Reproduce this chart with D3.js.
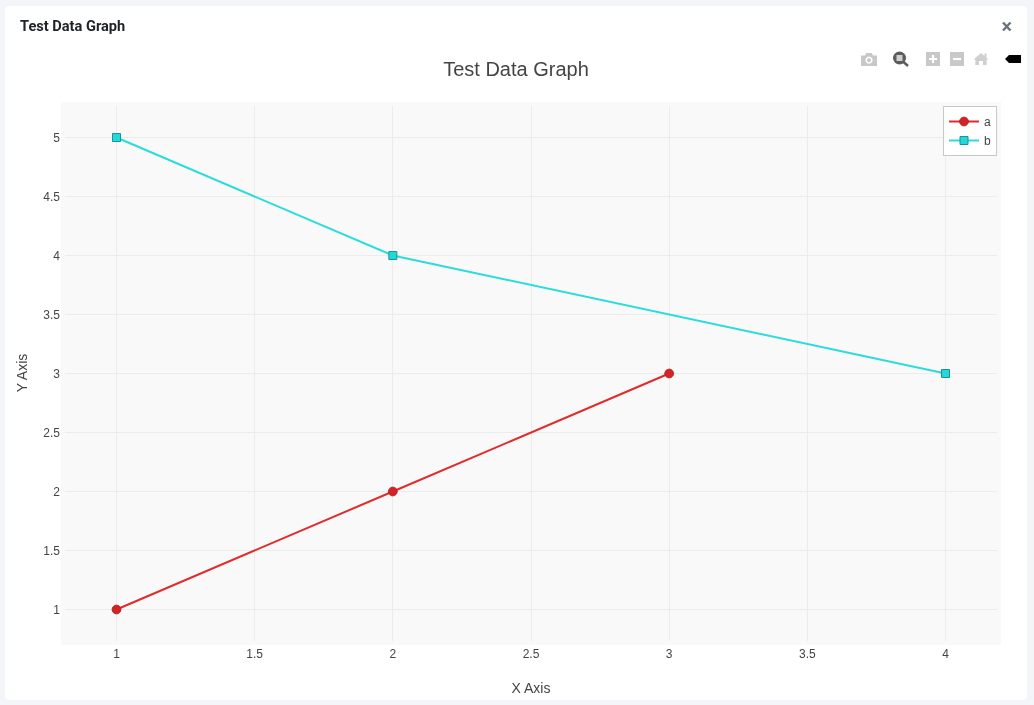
<!DOCTYPE html>
<html>
<head>
<meta charset="utf-8">
<script src="https://cdn.jsdelivr.net/npm/d3@7"></script>
<style>
html,body{margin:0;padding:0;background:#f4f5f8;width:1034px;height:705px;overflow:hidden}
svg{position:absolute;left:0;top:0;display:block;will-change:transform}
text{font-family:"Liberation Sans",Arial,sans-serif}
</style>
</head>
<body>
<svg id="chart" width="1034" height="705"></svg>
<script>
const chartTitle = "Test Data Graph";
const xAxisLabel = "X Axis";
const yAxisLabel = "Y Axis";
const seriesNames = ["a", "b"];
const seriesAX = [1, 2, 3];
const seriesAY = [1, 2, 3];
const seriesBX = [1, 2, 4];
const seriesBY = [5, 4, 3];
const xTicks = [1, 1.5, 2, 2.5, 3, 3.5, 4];
const yTicks = [1, 1.5, 2, 2.5, 3, 3.5, 4, 4.5, 5];
const seriesColors = ["#e22a2a", "#2adcdc"];
const markerFill = ["#d62222", "#22d8d8"];
const markerStroke = ["#ab2228", "#1a9298"];

const svg = d3.select("#chart");
const plot = {l: 61, r: 1001, t: 102, b: 645};
const x = d3.scaleLinear().domain([1, 4]).range([116.5, 945.5]);
const y = d3.scaleLinear().domain([1, 5]).range([609.5, 137.5]);

// card
svg.append("rect").attr("x", 5).attr("y", 6).attr("width", 1022).attr("height", 694).attr("rx", 4).attr("fill", "#fff");
svg.append("text").attr("x", 20).attr("y", 31).attr("fill", "#212529")
  .style("font-family", "Roboto,sans-serif").style("font-size", "14.6px").style("font-weight", 700).text(chartTitle);
svg.append("path").attr("d", "M1003 22.5L1010.5 30.5M1010.5 22.5L1003 30.5").attr("stroke", "#69717f").attr("stroke-width", 2.4).attr("fill", "none");

// plot background
svg.append("rect").attr("x", plot.l).attr("y", plot.t).attr("width", plot.r - plot.l).attr("height", plot.b - plot.t).attr("fill", "#f9f9f9");

// axes drawn with d3 axis, then styled as gridlines
const gx = svg.append("g").attr("transform", `translate(0,${plot.b - 4})`)
  .call(d3.axisBottom(x).offset(0).tickValues(xTicks).tickFormat(d3.format("~g")).tickSize(-(plot.b - plot.t - 8)).tickPadding(8));
const gy = svg.append("g").attr("transform", `translate(${plot.l + 4},0)`)
  .call(d3.axisLeft(y).offset(0).tickValues(yTicks).tickFormat(d3.format("~g")).tickSize(-(plot.r - plot.l - 8)).tickPadding(5));
[gx, gy].forEach(g => {
  g.select(".domain").remove();
  g.selectAll("line").attr("stroke", "#ececec").attr("stroke-width", 1).attr("shape-rendering", "crispEdges");
  g.selectAll("text").attr("fill", "#444").style("font-family", "'Liberation Sans',Arial,sans-serif").style("font-size", "12px");
});
gy.selectAll("text").attr("y", 0.5);

// axis titles
svg.append("text").attr("x", 531).attr("y", 693).attr("text-anchor", "middle").attr("fill", "#444").style("font-size", "14px").text(xAxisLabel);
svg.append("text").attr("transform", "translate(27,373) rotate(-90)").attr("text-anchor", "middle").attr("fill", "#444").style("font-size", "14px").text(yAxisLabel);
svg.append("text").attr("x", 516).attr("y", 76).attr("text-anchor", "middle").attr("fill", "#444").style("font-size", "20px").text(chartTitle);

// series
const line = d3.line().x(d => x(d[0])).y(d => y(d[1]));
const seriesA = d3.zip(seriesAX, seriesAY);
const seriesB = d3.zip(seriesBX, seriesBY);
const circleSym = d3.symbol().type(d3.symbolCircle).size(Math.PI * 19);
const squareSym = d3.symbol().type(d3.symbolSquare).size(64);
[seriesA, seriesB].forEach((pts, i) => {
  const g = svg.append("g");
  g.append("path").datum(pts).attr("d", line).attr("fill", "none").attr("stroke", seriesColors[i]).attr("stroke-width", 2);
  g.selectAll("path.m").data(pts).join("path").attr("class", "m")
    .attr("transform", d => `translate(${x(d[0])},${y(d[1])})`)
    .attr("d", i === 0 ? circleSym : squareSym)
    .attr("fill", markerFill[i]).attr("stroke", markerStroke[i]).attr("stroke-width", 1);
});

// legend
const legend = svg.append("g");
legend.append("rect").attr("x", 943.5).attr("y", 106.5).attr("width", 53).attr("height", 49).attr("fill", "#fff").attr("stroke", "#c8c8c8").attr("stroke-width", 1);
seriesNames.forEach((name, i) => {
  const ly = 121.5 + i * 19;
  legend.append("line").attr("x1", 949).attr("x2", 979).attr("y1", ly).attr("y2", ly).attr("stroke", seriesColors[i]).attr("stroke-width", 2);
  legend.append("path").attr("transform", `translate(964,${ly})`).attr("d", i === 0 ? circleSym : squareSym)
    .attr("fill", markerFill[i]).attr("stroke", markerStroke[i]).attr("stroke-width", 1);
  legend.append("text").attr("x", 984).attr("y", ly + 4.5).attr("fill", "#444").style("font-size", "12px").text(name);
});

// modebar icons
const bar = svg.append("g");
const grey = "#c8c8c8";
// camera
bar.append("path").attr("fill-rule", "evenodd").attr("fill", grey)
  .attr("d", "M861 55.5h4l1.2-2.5h5.6l1.2 2.5h4v10.5h-16zM869 56.6a3.6 3.6 0 1 0 .01 0zM869 58.2a2 2 0 1 1-.01 0z");
// zoom lens
bar.append("circle").attr("cx", 899.5).attr("cy", 58).attr("r", 6.5).attr("fill", "#5c5c5c");
bar.append("rect").attr("x", 896.5).attr("y", 55).attr("width", 6).attr("height", 6).attr("fill", "#cfcfcf");
bar.append("line").attr("x1", 903.5).attr("y1", 62).attr("x2", 908).attr("y2", 66).attr("stroke", "#5c5c5c").attr("stroke-width", 2.4);
// plus
bar.append("rect").attr("x", 926).attr("y", 52).attr("width", 14).attr("height", 14).attr("fill", grey);
bar.append("path").attr("d", "M929 59h8M933 55v8").attr("stroke", "#fff").attr("stroke-width", 2.2);
// minus
bar.append("rect").attr("x", 950).attr("y", 52).attr("width", 14).attr("height", 14).attr("fill", grey);
bar.append("path").attr("d", "M953 59h8").attr("stroke", "#fff").attr("stroke-width", 2.2);
// home
bar.append("path").attr("fill", "#d0d0d0").attr("d", "M981 53l3.5 3V53.5h2v4.3l2 1.7h-1.8v5.5h-3.7v-4h-4v4h-3.7v-5.5h-1.8z");
// black arrow
bar.append("path").attr("fill", "#000").attr("d", "M1005 59l4-4h12v8h-12z");
</script>
</body>
</html>
